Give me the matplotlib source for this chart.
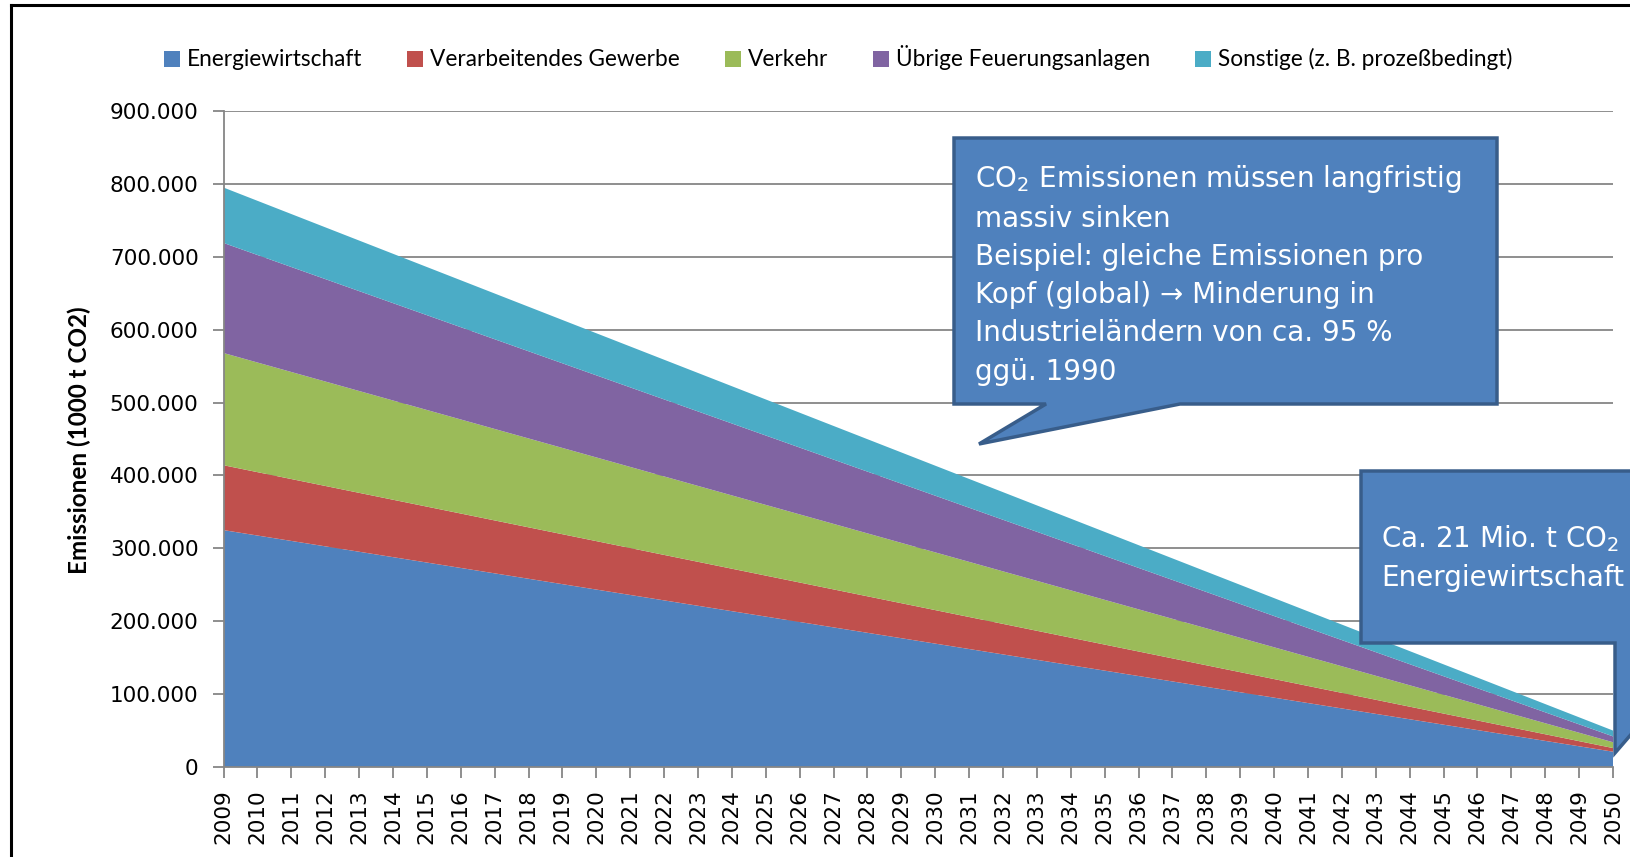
import matplotlib
matplotlib.use("Agg")
import matplotlib.pyplot as plt
from matplotlib.patches import Patch, Polygon
from matplotlib.lines import Line2D
from matplotlib.ticker import FuncFormatter, MultipleLocator

jahre = [2009, 2050]
energiewirtschaft = [325000, 21000]
verarbeitendes_gewerbe = [89000, 5000]
verkehr = [154000, 8000]
uebrige_feuerung = [151000, 8000]
sonstige = [76000, 8000]

reihen = ["Energiewirtschaft", "Verarbeitendes Gewerbe", "Verkehr",
          "Übrige Feuerungsanlagen", "Sonstige (z. B. prozeßbedingt)"]
farben = ["#4F81BD", "#C0504D", "#9BBB59", "#8064A2", "#4BACC6"]
tick_jahre = list(range(2009, 2051))

W, H = 1630, 857
fig = plt.figure(figsize=(W / 100, H / 100), dpi=100)
ax = fig.add_axes([223.5 / W, 1 - 767 / H, (1613 - 223.5) / W, (767 - 111) / H])

def px(x, y):
    # Pixel (von oben links) -> Figurenkoordinaten
    return (x / W, 1 - y / H)

ax.stackplot(jahre, energiewirtschaft, verarbeitendes_gewerbe, verkehr,
             uebrige_feuerung, sonstige, colors=farben, linewidth=0)

ax.set_xlim(2009, 2050)
ax.set_ylim(0, 900000)
ax.yaxis.set_major_locator(MultipleLocator(100000))
ax.yaxis.set_major_formatter(FuncFormatter(lambda v, p: f"{int(v):,}".replace(",", ".")))
ax.set_xticks(tick_jahre)
ax.set_xticklabels([str(j) for j in tick_jahre], rotation=90)
ax.tick_params(axis="both", colors="#868686", labelcolor="black", labelsize=15.5,
               length=8, width=1.3, direction="out")
ax.tick_params(axis="y", pad=10)
ax.tick_params(axis="x", pad=8)
ax.grid(axis="y", color="#868686", linewidth=1.3)
ax.set_axisbelow(True)
for s in ["top", "right"]:
    ax.spines[s].set_visible(False)
for s in ["left", "bottom"]:
    ax.spines[s].set_color("#868686")
    ax.spines[s].set_linewidth(1.3)

fig.text(*px(79, 440), "Emissionen (1000 t CO2)", rotation=90, ha="center", va="center",
         fontsize=17.5, fontweight="bold", family="Lato")

handles = [Patch(facecolor=c, edgecolor="none") for c in farben]
fig.legend(handles, reihen, loc="center", bbox_to_anchor=px(838, 58), ncol=5,
           frameon=False, prop={"family": "Lato", "size": 16.3},
           handlelength=0.7, handleheight=0.7, handletextpad=0.3, columnspacing=2.0)

# Rahmen links und oben
fig.add_artist(Line2D([10.5 / W, 10.5 / W], [0, 1 - 5 / H], color="black", linewidth=2.2,
                      transform=fig.transFigure))
fig.add_artist(Line2D([10.5 / W, 1], [1 - 5 / H, 1 - 5 / H], color="black", linewidth=2.2,
                      transform=fig.transFigure))

plt.rcParams["mathtext.fontset"] = "custom"
plt.rcParams["mathtext.rm"] = "DejaVu Sans"

# Sprechblase 1
blase1 = [(954, 138), (1497, 138), (1497, 404), (1180, 404), (979, 444), (1046, 404), (954, 404)]
fig.add_artist(Polygon([px(x, y) for x, y in blase1], closed=True, facecolor="#4F81BD",
                       edgecolor="#385D8A", linewidth=2.5, transform=fig.transFigure, zorder=5))
text1 = ("CO$_\\mathrm{2}$ Emissionen müssen langfristig\nmassiv sinken\n"
         "Beispiel: gleiche Emissionen pro\nKopf (global) \u2192 Minderung in\n"
         "Industrieländern von ca. 95 %\nggü. 1990")
fig.text(*px(975, 163), text1, ha="left", va="top", color="white", fontsize=20,
         family="DejaVu Sans", linespacing=1.46, zorder=6)

# Sprechblase 2
blase2 = [(1361, 471), (1665, 471), (1665, 695), (1615, 753), (1615, 643), (1361, 643)]
fig.add_artist(Polygon([px(x, y) for x, y in blase2], closed=True, facecolor="#4F81BD",
                       edgecolor="#385D8A", linewidth=2.5, transform=fig.transFigure, zorder=5))
fig.text(*px(1381, 523), "Ca. 21 Mio. t CO$_\\mathrm{2}$\nEnergiewirtschaft", ha="left", va="top",
         color="white", fontsize=20, family="DejaVu Sans", linespacing=1.46, zorder=6)

fig.savefig("out.png", dpi=100)
